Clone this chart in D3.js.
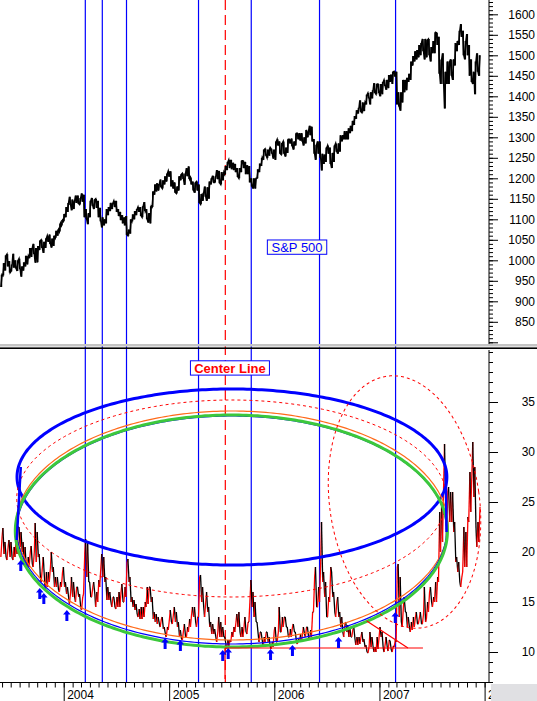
<!DOCTYPE html>
<html><head><meta charset="utf-8">
<script src="https://cdn.jsdelivr.net/npm/d3@7"></script>
<style>body{margin:0;background:#fff}svg{display:block;font-family:"Liberation Sans",Arial,sans-serif}</style>
</head><body><svg id="c" width="537" height="701"></svg>
<script>
// ---------- DATA ----------
const weekStart = "2003-05-30"; // first weekly bar (Fridays)
const spxLow = [935,963,975,985,970,973,982,980,974,978,960,975,985,990,1005,1008,1015,994,995,1025,1030,1018,1030,1045,1040,1031,1035,1055,1060,1070,1085,
1095,1105,1118,1135,1122,1125,1140,1138,1136,1143,1105,1100,1088,1105,1133,1125,1128,1105,1095,1080,1085,1090,1110,1120,1125,1130,1118,1108,1098,1090,1085,1062,1060,1065,1095,1100,1110,1118,1108,1105,1120,1100,1092,1090,1130,1160,1168,1170,1178,1175,1185,1192,1204,
1180,1175,1165,1163,1170,1195,1198,1184,1205,1198,1185,1170,1165,1170,1140,1137,1145,1155,1145,1150,1185,1190,1190,1198,1188,1185,1195,1210,1220,1225,1222,1220,1215,1203,1200,1215,1225,1210,1210,1190,1180,1175,1175,1200,1215,1230,1245,1255,1250,1255,1260,1248,
1245,1280,1260,1258,1260,1253,1262,1285,1278,1270,1280,1295,1292,1290,1280,1285,1300,1305,1290,1260,1245,1260,1250,1219,1235,1240,1260,1235,1225,1240,1265,1260,1265,1290,1295,1295,1295,1310,1315,1330,1345,1358,1362,1360,1364,1380,1395,1380,1395,1408,1405,1408,
1400,1405,1425,1416,1420,1435,1430,1448,1380,1375,1365,1385,1410,1415,1435,1440,1475,1485,1490,1495,1500,1510,1490,1495,1500,1485,1505,1505,1525,1455,1430,1430,1370,1430,1430,1450,1440,1475,1510,1525,1545,1500,1490,1500,1450,1435,1430,1405,1460,1450];
const spxHigh = [965,993,1012,1015,998,990,1016,1000,1000,1004,985,995,1011,1010,1030,1030,1040,1030,1035,1048,1050,1045,1054,1060,1063,1053,1060,1072,1075,1090,1098,
1113,1130,1140,1155,1148,1145,1158,1158,1152,1163,1160,1125,1115,1145,1152,1148,1150,1145,1128,1105,1100,1125,1130,1140,1140,1145,1145,1125,1118,1110,1105,1108,1075,1100,1112,1120,1125,1130,1130,1132,1142,1125,1115,1132,1168,1185,1188,1186,1197,1195,1205,1212,1218,
1217,1195,1190,1180,1205,1210,1212,1212,1225,1229,1202,1192,1190,1192,1185,1162,1165,1180,1178,1192,1200,1206,1205,1220,1218,1215,1215,1230,1240,1245,1245,1238,1235,1225,1225,1243,1243,1240,1232,1230,1200,1200,1200,1222,1236,1250,1270,1272,1270,1275,1272,1270,
1290,1295,1290,1286,1290,1275,1295,1295,1297,1290,1310,1310,1310,1310,1300,1318,1315,1328,1326,1296,1282,1290,1290,1260,1258,1275,1280,1275,1262,1280,1285,1285,1305,1305,1315,1315,1322,1328,1340,1352,1366,1372,1390,1385,1385,1404,1408,1410,1415,1432,1430,1430,
1430,1435,1440,1440,1452,1453,1460,1461,1460,1410,1410,1440,1440,1445,1455,1485,1498,1510,1513,1525,1530,1540,1540,1538,1540,1520,1535,1556,1555,1545,1490,1505,1460,1485,1485,1490,1490,1530,1535,1560,1576,1560,1535,1552,1525,1490,1460,1485,1505,1500];
const vixLow = [19.5,19.8,19.5,19.2,19.5,19.4,19.2,19.5,19.8,20.5,20,19,18.5,18.5,18.5,18.8,18.5,19,19.5,17.5,17,17.5,16.2,16.5,17,18,16.5,16.5,16.2,16,16.5,
16.5,15.8,15.5,14.8,15.5,15.5,15,15.5,14.5,14.2,15.8,17.5,17,15.5,15.5,15.8,14.5,15,16.5,17.5,17,15.2,15.2,15,14.5,14.5,14.3,14.5,14.5,15,15,15.5,17,15,14.5,14.2,13.8,13.5,13.3,13.3,13.5,14.5,14.8,15,13.3,13,12.8,12.8,12.5,12.3,11.8,11.5,12.2,
13,12.8,13,12.5,11.5,11.3,11.2,11.5,11.5,12,12.5,13.5,13,12.5,13.5,15,14.5,13.5,14,12.5,11.8,11.8,11.5,11,11.5,11.5,11.5,10.8,10.3,10.5,11,11.5,12,12.5,12,11.5,11.5,12,11.8,13,14.5,13.5,13,11.8,11,11.2,10.5,11,11,10.5,10.3,10.5,
11,11,12,12,12.5,12.5,11.5,11.5,11.5,12,11,10.8,11,11,11.8,11.5,11.5,11.2,11.5,14,14.5,14.5,15,17,15.5,13.5,13.5,15,15.5,14,13.5,13.5,12.5,12,11.5,12,11.5,11.5,11.5,11.3,10.7,10.7,10.8,11,10.5,10,9.9,10.5,10.5,10,10,10.3,
11.5,10.4,10,10.5,10.1,10.2,10,10.5,11,13.5,13,12.5,14,12.5,12.5,12,12.2,12.5,12.8,12.8,12.8,12.8,13,13.3,14,15,14.5,15,15,17,20,21,25,21.5,23,23,22,19,18,17,16.5,18,18.5,18.5,23,24,25.5,22.5,20.5,21];
const vixHigh = [21.5,22.4,21,20.5,21.2,21,20.5,21.5,22.5,22.5,22,21,20.5,19.5,20,20.6,20,22.9,22,19.8,18.5,19.5,18,18,18.5,20,18.5,17.5,17.5,17,18,
18.5,17,16.5,16,17.5,17,16.5,16.5,15.8,15.5,19.8,21.3,21,17,16.5,17,16,17.2,18.5,19.8,19.5,17.5,16.5,16,15.5,15.5,15.5,16,16,16.8,16.5,19,19.3,17.5,15.5,15.2,14.8,14.3,14.5,14.5,15,16.5,16.5,16.5,15.5,14,13.8,13.5,13.3,13.5,12.5,12.5,13.3,
14.2,13.8,14.5,14,13,12.2,12.2,12.8,12.5,13.3,13.8,14.5,14.5,13.5,17.5,17.7,16.5,15,16,14.5,13,12.8,12.3,12,13.5,13,12.5,11.5,11.2,11.2,12,12.5,13,13.8,14,12.5,12.5,13.5,13,15.5,17.2,16,15,13,12,12,11.5,12,12,11.5,11,12.2,
12.5,12,14.5,13.5,13.5,13.5,12.5,12.3,12.5,12.8,12,11.3,11.8,11.8,12.5,12.5,12.5,12.2,14,17.5,18.5,16.5,19,23,18,17,15.5,18.5,18,16,15,15.5,14,13.5,12.8,13,12.7,12.5,12.3,12.5,11.5,11.5,11.5,12,11.3,10.7,10.5,12,11.5,10.5,11.5,11.6,
12.5,12,10.8,11.5,11.2,11.1,10.6,11.2,18.5,18.8,17.5,14.5,15.5,14,13.5,13,13.5,13.5,14,13.5,14,13.8,16.5,15,16,16.5,15.5,17,17.5,24,25,27,30.8,26,26.5,26,26,23,19.5,19,17.5,22.5,22,23.5,28,28,31,28.5,23,24.5];

const spxTickLabels = [850,900,950,1000,1050,1100,1150,1200,1250,1300,1350,1400,1450,1500,1550,1600];
const vixTickLabels = [10,15,20,25,30,35];
const yearLabels = ["2004","2005","2006","2007","2008"];

// annotations (dates / values)
const cycleLineDates = ["2004-03-16","2004-05-14","2004-08-06","2005-04-13","2005-10-13","2006-06-07","2007-02-26"];
const centerLineDate = "2005-07-15";
const arrowDates  = ["2003-08-05","2003-10-10","2003-10-24","2004-01-12","2004-12-18","2005-02-09","2005-07-06","2005-07-25","2005-12-19","2006-03-05","2006-08-12","2007-02-25"];
const arrowValues = [19.2,16.4,15.9,14.2,11.4,11.2,10.2,10.4,10.3,10.7,11.5,14.0];
const ellipseNames   = ["outer","dotted","orange","thinBlue","green","tilted"];
const ellipseCenters = ["2005-08-07","2005-08-06","2005-08-07","2005-08-06","2005-08-05","2007-03-29"];
const ellipseHalfDays = [746,746,750,746,750,260];
const ellipseValues   = [27.5,25.35,22.65,22.2,22.1,25];
const ellipseHalfVals = [8.8,9.85,11.45,11.4,11.6,12.7];
const tipLines = [[["2003-07-22",21.2],["2003-08-05",28.5]],[["2007-08-19",28.2],["2007-08-22",22.0]]];
const floorLine = [["2005-07-14",10.4],["2007-06-01",10.4]];
const floorDiag = [["2006-11-18",13.1],["2007-04-10",10.4]];
const centerStem = [["2005-07-14",10.4],["2005-07-14",7.3]];
const spxLabel = {text:"S&P 500", date:"2006-03-21", value:1032};
const centerLabel = {text:"Center Line", date:"2005-07-31", value:38.4};

// ---------- SETUP ----------
const parse = d3.timeParse("%Y-%m-%d");
const svg = d3.select("#c");
const x = d3.scaleTime().domain([new Date(2004,0,1), new Date(2008,0,1)]).range([63.7, 484.6]);
const yTop = d3.scaleLinear().domain([800,1600]).range([342.3,14.3]);
const yBot = d3.scaleLinear().domain([10,35]).range([652,402]);
const AX = 489;
const BLUE="#0000ff", RED="#ff0000", GREEN="#3cc83c", ORANGE="#ff6a1a";

const start = parse(weekStart);
const n = Math.min(spxLow.length, spxHigh.length);
const dates = d3.range(n).map(i => d3.timeDay.offset(start, 7*i));

const defs = svg.append("defs");
defs.append("clipPath").attr("id","ct").append("rect").attr("x",0).attr("y",0).attr("width",AX).attr("height",344);
defs.append("clipPath").attr("id","cb").append("rect").attr("x",0).attr("y",349).attr("width",AX).attr("height",333);

const vl = svg.append("g");
cycleLineDates.forEach(d => {
  vl.append("line").attr("x1",x(parse(d))).attr("x2",x(parse(d))).attr("y1",0).attr("y2",682)
    .attr("stroke",BLUE).attr("stroke-width",1.2);
});
vl.append("line").attr("x1",x(parse(centerLineDate))).attr("x2",x(parse(centerLineDate)))
  .attr("y1",0).attr("y2",682).attr("stroke",RED).attr("stroke-width",1.2).attr("stroke-dasharray","10,5");

// ---------- S&P panel ----------
const gt = svg.append("g").attr("clip-path","url(#ct)");
function zig(lo, hi) {
  const pts = [];
  for (let i=0;i<lo.length;i++){
    const xi = x(dates[i]);
    const m = (lo[i]+hi[i])/2, mn = i+1<lo.length ? (lo[i+1]+hi[i+1])/2 : m;
    const up = mn >= m;
    pts.push({x:xi-0.6, v:up?lo[i]:hi[i]});
    pts.push({x:xi+0.6, v:up?hi[i]:lo[i]});
  }
  return pts;
}
dates.forEach((d,i) => {
  gt.append("line").attr("x1",x(d)).attr("x2",x(d)).attr("y1",yTop(spxLow[i])).attr("y2",yTop(spxHigh[i]))
    .attr("stroke","#000").attr("stroke-width",1.5);
});
const spxPts = zig(spxLow, spxHigh);
gt.append("path").attr("d", d3.line().x(p=>p.x).y(p=>yTop(p.v))(spxPts))
  .attr("fill","none").attr("stroke","#000").attr("stroke-width",1.5);

{
  const cx = x(parse(spxLabel.date)), cy = yTop(spxLabel.value);
  svg.append("rect").attr("x",cx-29.7).attr("y",cy-7.2).attr("width",59.4).attr("height",14.3)
    .attr("fill","#ffffec").attr("stroke",BLUE).attr("stroke-width",1);
  svg.append("text").attr("x",cx).attr("y",cy+4.6).attr("text-anchor","middle")
    .attr("font-size",13).attr("fill",BLUE).text(spxLabel.text);
}

// ---------- VIX panel ----------
const gb = svg.append("g").attr("clip-path","url(#cb)");
const vixPts = zig(vixLow, vixHigh);
for (let i=1;i<vixPts.length;i++){
  const p=vixPts[i-1], q=vixPts[i];
  gb.append("line").attr("x1",p.x).attr("x2",q.x).attr("y1",yBot(p.v)).attr("y2",yBot(q.v))
    .attr("stroke", q.v>p.v ? RED : "#000").attr("stroke-width",1.3);
}

const styles = {
  outer:{stroke:BLUE,w:3,dash:null},
  dotted:{stroke:RED,w:1,dash:"3,3"},
  orange:{stroke:ORANGE,w:1.2,dash:null},
  thinBlue:{stroke:BLUE,w:1.2,dash:null},
  green:{stroke:GREEN,w:3,dash:null},
  tilted:{stroke:RED,w:1,dash:"3,3"}
};
const tilts = {tilted:-8};
ellipseNames.forEach((nm,k) => {
  const c = parse(ellipseCenters[k]);
  const pts = d3.range(360).map(j => {
    const a = 2*Math.PI*j/360;
    const d = new Date(+c + Math.cos(a)*ellipseHalfDays[k]*864e5);
    return [x(d), yBot(ellipseValues[k] + Math.sin(a)*ellipseHalfVals[k])];
  });
  const s = styles[nm];
  const p = gb.append("path").attr("d", d3.line().curve(d3.curveLinearClosed)(pts))
    .attr("fill","none").attr("stroke",s.stroke).attr("stroke-width",s.w);
  if (s.dash) p.attr("stroke-dasharray",s.dash);
  if (tilts[nm]) p.attr("transform",`rotate(${tilts[nm]},${x(c)},${yBot(ellipseValues[k])})`);
});
tipLines.forEach(l => {
  gb.append("line").attr("x1",x(parse(l[0][0]))).attr("y1",yBot(l[0][1]))
    .attr("x2",x(parse(l[1][0]))).attr("y2",yBot(l[1][1])).attr("stroke",BLUE).attr("stroke-width",2.5);
});
[floorLine, floorDiag, centerStem].forEach(l => {
  gb.append("line").attr("x1",x(parse(l[0][0]))).attr("y1",yBot(l[0][1]))
    .attr("x2",x(parse(l[1][0]))).attr("y2",yBot(l[1][1])).attr("stroke",RED).attr("stroke-width",1.2);
});

arrowDates.forEach((d,i) => {
  const ax = x(parse(d)), ay = yBot(arrowValues[i]);
  gb.append("path").attr("d",`M${ax},${ay} L${ax+3.8},${ay+4.5} L${ax+1.5},${ay+4.5} L${ax+1.5},${ay+11} L${ax-1.5},${ay+11} L${ax-1.5},${ay+4.5} L${ax-3.8},${ay+4.5} Z`)
    .attr("fill",BLUE);
});

{
  const cx = x(parse(centerLabel.date)), cy = yBot(centerLabel.value);
  svg.append("rect").attr("x",cx-39.5).attr("y",cy-7.2).attr("width",79).attr("height",14.3)
    .attr("fill","#fff").attr("stroke",BLUE).attr("stroke-width",1);
  svg.append("text").attr("x",cx).attr("y",cy+5).attr("text-anchor","middle")
    .attr("font-size",13).attr("font-weight","bold").attr("fill",RED).text(centerLabel.text);
}

svg.append("rect").attr("x",0).attr("y",344).attr("width",537).attr("height",2.5).attr("fill","#c4c4c4");
svg.append("rect").attr("x",0).attr("y",347.4).attr("width",537).attr("height",1.6).attr("fill","#000");

function styleAxis(g){ g.select(".domain").remove(); g.selectAll("line").attr("stroke","#000"); }
svg.append("line").attr("x1",AX).attr("x2",AX).attr("y1",0).attr("y2",344).attr("stroke","#000");
svg.append("g").attr("transform",`translate(${AX},0)`)
  .call(d3.axisRight(yTop).tickValues(d3.range(800,1640,10)).tickSize(4).tickFormat("")).call(styleAxis);
svg.append("g").attr("transform",`translate(${AX},0)`)
  .call(d3.axisRight(yTop).tickValues([800].concat(spxTickLabels)).tickSize(9)
    .tickFormat(v => spxTickLabels.includes(v) ? String(v) : ""))
  .call(styleAxis)
  .call(g => g.selectAll("text").attr("x",46).attr("text-anchor","end").attr("font-size",12)
    .attr("font-family","'Liberation Sans',Arial,sans-serif").attr("fill","#000"));
svg.append("line").attr("x1",AX).attr("x2",AX).attr("y1",350).attr("y2",683).attr("stroke","#000");
svg.append("g").attr("transform",`translate(${AX},0)`)
  .call(d3.axisRight(yBot).tickValues(d3.range(7,41,1)).tickSize(4).tickFormat("")).call(styleAxis);
svg.append("g").attr("transform",`translate(${AX},0)`)
  .call(d3.axisRight(yBot).tickValues(vixTickLabels).tickSize(9).tickFormat(d3.format("d")))
  .call(styleAxis)
  .call(g => g.selectAll("text").attr("x",46).attr("text-anchor","end").attr("font-size",12)
    .attr("font-family","'Liberation Sans',Arial,sans-serif").attr("fill","#000"));

svg.append("line").attr("x1",0).attr("x2",AX).attr("y1",682.5).attr("y2",682.5).attr("stroke","#000");
svg.append("g").attr("transform","translate(0,682.5)")
  .call(d3.axisBottom(x).tickValues(d3.timeMonth.range(new Date(2003,5,1), new Date(2008,0,2))).tickSize(5).tickFormat(""))
  .call(styleAxis);
const yearDates = yearLabels.map(y => new Date(+y,0,1));
svg.append("g").attr("transform","translate(0,682.5)")
  .call(d3.axisBottom(x).tickValues(yearDates).tickSize(19).tickFormat(d3.timeFormat("%Y")))
  .call(styleAxis)
  .call(g => g.selectAll("text").attr("x",3).attr("y",16.5).attr("dy",0).attr("text-anchor","start")
    .attr("font-size",12).attr("font-family","'Liberation Sans',Arial,sans-serif").attr("fill","#000"));

svg.append("rect").attr("x",491).attr("y",684).attr("width",46).attr("height",17).attr("fill","#e0e0e3");
</script></body></html>
